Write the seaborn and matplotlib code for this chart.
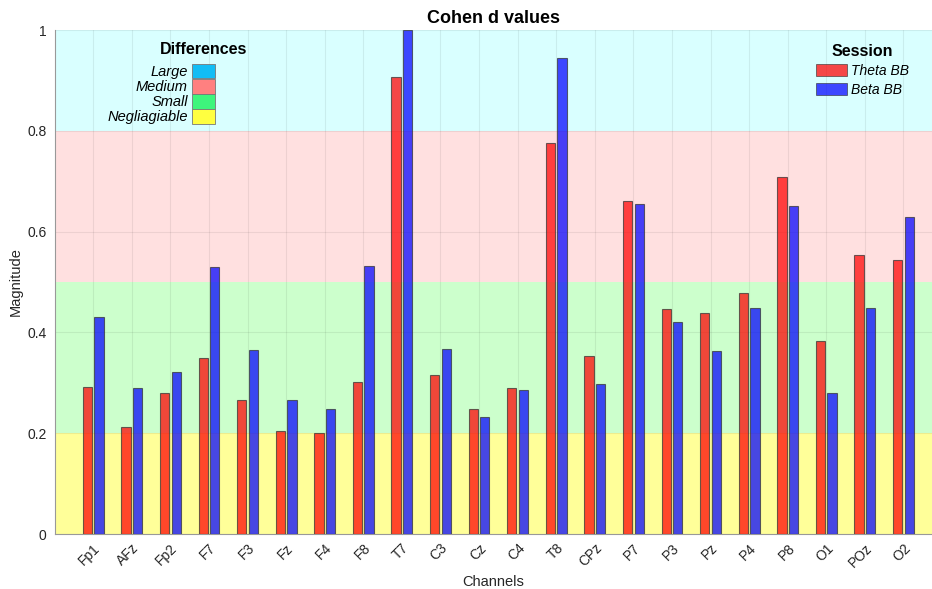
import numpy as np
import pandas as pd
import seaborn as sns
import matplotlib.pyplot as plt
from matplotlib.patches import Patch

channels = ['Fp1', 'AFz', 'Fp2', 'F7', 'F3', 'Fz', 'F4', 'F8', 'T7', 'C3', 'Cz',
            'C4', 'T8', 'CPz', 'P7', 'P3', 'Pz', 'P4', 'P8', 'O1', 'POz', 'O2']
theta_bb = [0.291, 0.213, 0.280, 0.350, 0.266, 0.204, 0.200, 0.301, 0.906, 0.316, 0.249,
            0.290, 0.775, 0.354, 0.661, 0.447, 0.438, 0.479, 0.708, 0.382, 0.554, 0.543]
beta_bb = [0.431, 0.290, 0.322, 0.530, 0.365, 0.266, 0.248, 0.531, 1.000, 0.367, 0.232,
           0.285, 0.944, 0.298, 0.654, 0.421, 0.364, 0.448, 0.650, 0.280, 0.448, 0.628]
sessions = ['Theta BB', 'Beta BB']

# effect size bands (lower, upper)
band_names = ['Large', 'Medium', 'Small', 'Negliagiable']
band_limits = [(0.8, 1.0), (0.5, 0.8), (0.2, 0.5), (0.0, 0.2)]
band_bg = ['#d9ffff', '#ffe0e0', '#ccffcc', '#ffff99']
band_key = ['#12bdf5', '#ff8080', '#3ef57c', '#ffff40']

df = pd.DataFrame({
    'channel': channels * 2,
    'value': theta_bb + beta_bb,
    'session': [sessions[0]] * len(channels) + [sessions[1]] * len(channels),
})

sns.set_style('white')
plt.rcParams['font.family'] = ['Liberation Sans', 'DejaVu Sans']

fig = plt.figure(figsize=(9.32, 5.89), dpi=100)
ax = fig.add_axes([55 / 932, 55 / 589, 1 - 55 / 932, 504 / 589])

for (lo, hi), c in zip(band_limits, band_bg):
    ax.axhspan(lo, hi, color=c, zorder=0, lw=0)

sns.barplot(data=df, x='channel', y='value', hue='session', order=channels,
            palette=['#ff0000', '#0000ff'], saturation=1, width=0.6, gap=0.2, alpha=0.72,
            edgecolor='#333333', linewidth=0.8, legend=False, ax=ax, zorder=3)

ax.set_xlim(-0.99, 21.74)
ax.set_ylim(0, 1)
ax.set_yticks([0, 0.2, 0.4, 0.6, 0.8, 1])
ax.set_yticklabels(['0', '0.2', '0.4', '0.6', '0.8', '1'], fontsize=10)
ax.tick_params(axis='x', labelsize=10, length=0, pad=5)
ax.tick_params(axis='y', length=3, direction='in', color='#888888', pad=6)
plt.setp(ax.get_xticklabels(), rotation=45, ha='right', rotation_mode='anchor')
ax.grid(True, color='#000000', alpha=0.07, lw=0.8, zorder=1)
ax.set_axisbelow(True)
for s in ['top', 'right']:
    ax.spines[s].set_visible(False)
for s in ['left', 'bottom']:
    ax.spines[s].set_color('#999999')
    ax.spines[s].set_linewidth(0.8)

ax.set_title('Cohen d values', fontsize=13, fontweight='bold', pad=5, color='black')
ax.set_xlabel('Channels', fontsize=10.5, labelpad=4)
ax.set_ylabel('Magnitude', fontsize=10.5, labelpad=3)

h1 = [Patch(facecolor=c, edgecolor='#777777', lw=0.6) for c in band_key]
leg1 = ax.legend(h1, band_names, loc='upper right',
                 bbox_to_anchor=(222 / 932, 1 - 57 / 589), bbox_transform=fig.transFigure,
                 frameon=False, markerfirst=False, handlelength=1.55, handleheight=1.12,
                 labelspacing=0.0, handletextpad=0.3, borderpad=0,
                 prop={'style': 'italic', 'size': 10.5}, labelcolor='black')
ax.add_artist(leg1)
fig.text(204 / 932, 1 - 49 / 589, 'Differences', ha='center', va='center',
         fontsize=11.5, fontweight='bold', color='black')

h2 = [Patch(facecolor='#ff0000', edgecolor='#333333', alpha=0.72, lw=0.6),
      Patch(facecolor='#0000ff', edgecolor='#333333', alpha=0.72, lw=0.6)]
ax.legend(h2, sessions, title='Session', loc='upper left',
          bbox_to_anchor=(809 / 932, 1 - 37 / 589), bbox_transform=fig.transFigure,
          frameon=False, handlelength=2.2, handleheight=1.0, labelspacing=0.35,
          handletextpad=0.3, borderpad=0, labelcolor='black',
          prop={'style': 'italic', 'size': 10},
          title_fontproperties={'weight': 'bold', 'size': 11.5})
ax.get_legend().get_title().set_color('black')

fig.savefig('out.png', dpi=100)
